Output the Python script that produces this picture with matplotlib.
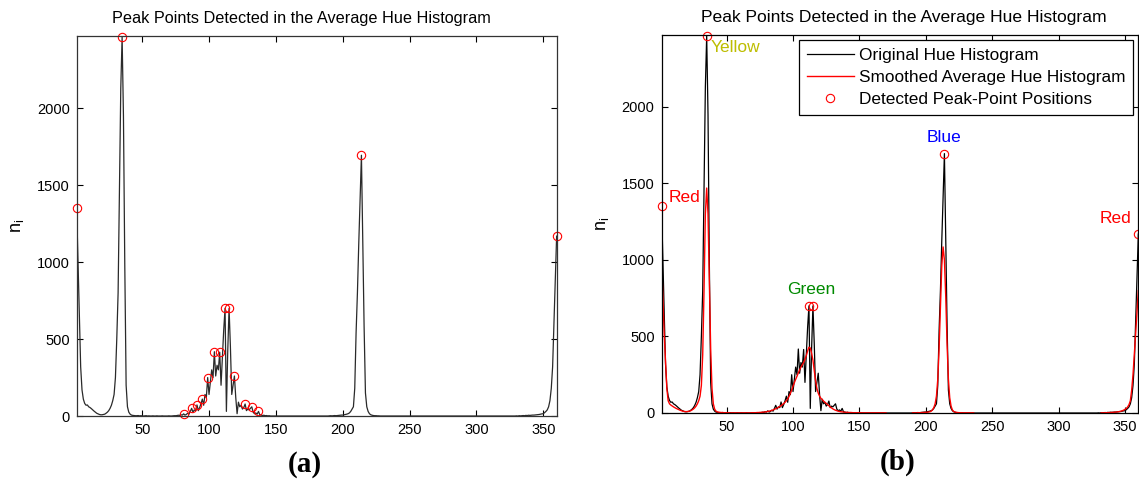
import matplotlib
matplotlib.use('Agg')
import matplotlib.pyplot as plt
import numpy as np

plt.rcParams['font.family'] = ['Liberation Sans', 'DejaVu Sans']

# original average hue histogram, stored as segments (hue start, counts)
orig_red_low = [1350, 1000, 630, 320, 170, 110, 82, 70, 72, 60,
                55, 48, 40, 32, 25, 18, 14, 10, 8, 8,
                10, 12, 18, 25, 35, 50, 70, 100, 140, 250,
                500, 800, 1490, 2130, 2465, 1950, 980, 200, 60, 25,
                12, 6, 4, 3, 2, 2, 3, 1, 2, 1,
                0, 1, 2, 0, 1, 0, 0, 1, 0, 0,
                1, 0, 0, 0, 1, 0, 0, 0, 0, 1,
                0, 0, 1, 2, 2]
orig_green = [3, 5, 4, 8, 6, 14, 6, 10, 18, 12,
              30, 50, 25, 40, 35, 72, 35, 55, 80, 110,
              70, 140, 120, 250, 140, 220, 300, 250, 418, 260,
              330, 300, 415, 200, 380, 560, 700, 30, 420, 700,
              450, 140, 200, 260, 120, 15, 90, 60, 70, 45,
              55, 78, 35, 45, 40, 50, 60, 25, 15, 20,
              12, 30, 8, 6, 3, 5, 2, 3, 1, 2]
orig_blue = [1, 2, 1, 2, 3, 2, 3, 4, 5, 6,
             6, 8, 10, 12, 15, 20, 30, 45, 60, 180,
             540, 800, 1120, 1410, 1695, 1140, 580, 150, 60, 30,
             15, 8, 5, 3, 2, 2, 1, 1, 0]
orig_red_high = [1, 0, 2, 1, 2, 3, 2, 4, 3, 5,
                 4, 5, 6, 6, 7, 8, 9, 10, 12, 14,
                 15, 22, 30, 40, 60, 100, 180, 320, 600, 900, 1169]

# smoothed histogram, same layout
smooth_low = [1000, 760, 520, 340, 160, 80, 60, 52, 46, 40,
              35, 30, 26, 22, 18, 15, 12, 10, 9, 9,
              10, 12, 15, 20, 26, 34, 45, 60, 80, 110,
              180, 380, 800, 1300, 1470, 1300, 850, 420, 160, 60,
              25, 12, 7, 5, 4, 3, 3, 2, 2, 2,
              2, 1, 1, 1, 1, 1, 1, 1, 1, 1,
              1, 1, 1, 1, 1, 1, 1, 1, 2, 2,
              2, 2, 3, 3, 4]
smooth_green = [4, 5, 6, 7, 8, 10, 12, 14, 17, 20,
                24, 28, 32, 37, 42, 48, 55, 62, 70, 80,
                92, 108, 128, 150, 175, 198, 220, 240, 262, 282,
                300, 315, 330, 350, 375, 405, 430, 425, 390, 345,
                280, 210, 160, 130, 110, 96, 88, 78, 70, 63,
                55, 48, 40, 33, 27, 22, 18, 15, 12, 10,
                8, 7, 6, 5, 4, 4, 3, 3, 3, 2,
                2, 2, 2, 2, 2, 2, 1, 1, 1, 1,
                1, 1, 1, 1, 1, 1, 1, 1, 1, 1,
                1, 1, 1, 1, 1]
smooth_blue = [1, 1, 1, 1, 2, 2, 2, 3, 3, 4,
               4, 5, 6, 8, 12, 20, 35, 60, 110, 220,
               420, 700, 960, 1085, 1000, 760, 450, 220, 100, 45,
               20, 10, 6, 4, 3, 2, 2, 2, 1, 1,
               1, 1, 1, 1, 1, 1, 1]
smooth_red_high = [1, 1, 1, 2, 2, 2, 3, 3, 4, 4,
                   5, 6, 7, 8, 10, 12, 15, 19, 24,
                   30, 40, 55, 80, 150, 250, 380, 520, 660, 800]

# detected peak hues
peaks_a = [1, 35, 81, 87, 91, 95, 99, 104, 108, 112, 115, 119, 127, 132, 137, 214, 360]
peaks_b = [1, 35, 112, 115, 214, 360]

# colour names in panel (b): text, hue, count, alignment, colour
color_labels = [("Red", 6, 1410, 'left', '#ff0000'),
                ("Yellow", 38, 2390, 'left', '#bdbd00'),
                ("Green", 114, 810, 'center', '#008a00'),
                ("Blue", 214, 1800, 'center', '#0000ff'),
                ("Red", 343, 1268, 'center', '#ff0000')]

hue = np.arange(1, 361)
orig = np.zeros(360)
for start, seg in [(1, orig_red_low), (76, orig_green), (190, orig_blue), (330, orig_red_high)]:
    orig[start - 1:start - 1 + len(seg)] = seg
smooth = np.full(360, np.nan)
for start, seg in [(1, smooth_low), (76, smooth_green), (190, smooth_blue), (332, smooth_red_high)]:
    smooth[start - 1:start - 1 + len(seg)] = seg

title = "Peak Points Detected in the Average Hue Histogram"

fig = plt.figure(figsize=(11.39, 4.8), dpi=100)
ax1 = fig.add_axes([0.0673, 0.1333, 0.4214, 0.7917])
ax2 = fig.add_axes([0.5808, 0.1396, 0.4186, 0.7875])


def style(ax, spine_color, title_x, title_size):
    ax.set_xlim(1, 360)
    ax.set_ylim(0, 2470)
    ax.set_xticks([50, 100, 150, 200, 250, 300, 350])
    ax.set_yticks([0, 500, 1000, 1500, 2000])
    ax.tick_params(direction='in', length=4, width=0.8, top=True, right=True,
                   labelsize=10.5, colors='black', pad=5)
    for s in ax.spines.values():
        s.set_color(spine_color)
        s.set_linewidth(0.9)
    ax.set_title(title, fontsize=title_size, pad=9, x=title_x)
    ax.set_ylabel(r'$\mathregular{n_i}$', fontsize=13, labelpad=8)


# (a) original histogram with all local peaks
ax1.plot(hue, orig, color='#2a2a2a', lw=0.9)
pa = np.array(peaks_a)
ax1.plot(pa, orig[pa - 1], 'o', mfc='none', mec='red', ms=6, mew=0.8, clip_on=False)
style(ax1, '#333333', 0.469, 11.7)

# (b) original + smoothed with dominant peaks
ax2.plot(hue, orig, color='black', lw=0.9, label='Original Hue Histogram')
ax2.plot(hue, smooth, color='red', lw=1.0, label='Smoothed Average Hue Histogram')
pb = np.array(peaks_b)
ax2.plot(pb, orig[pb - 1], 'o', mfc='none', mec='red', ms=6, mew=0.8, clip_on=False,
         label='Detected Peak-Point Positions')
for txt, h, v, ha, c in color_labels:
    ax2.text(h, v, txt, color=c, fontsize=12.5, ha=ha, va='center')
style(ax2, 'black', 0.5086, 12.6)
ax2.legend(loc='upper right', bbox_to_anchor=(1133 / 1139, 1 - 40 / 480),
           bbox_transform=fig.transFigure, fontsize=12.4, frameon=True, fancybox=False,
           edgecolor='black', framealpha=1, handlelength=2.7, handletextpad=0.3,
           labelspacing=0.42, borderpad=0.45, borderaxespad=0)
ax2.get_legend().get_frame().set_linewidth(0.9)

fig.text(305 / 1139, 1 - 464 / 480, '(a)', fontsize=21, fontweight='bold',
         family='Liberation Serif', ha='center', va='center')
fig.text(898 / 1139, 1 - 462 / 480, '(b)', fontsize=21, fontweight='bold',
         family='Liberation Serif', ha='center', va='center')

fig.savefig('out.png', dpi=100)
plt.close(fig)
